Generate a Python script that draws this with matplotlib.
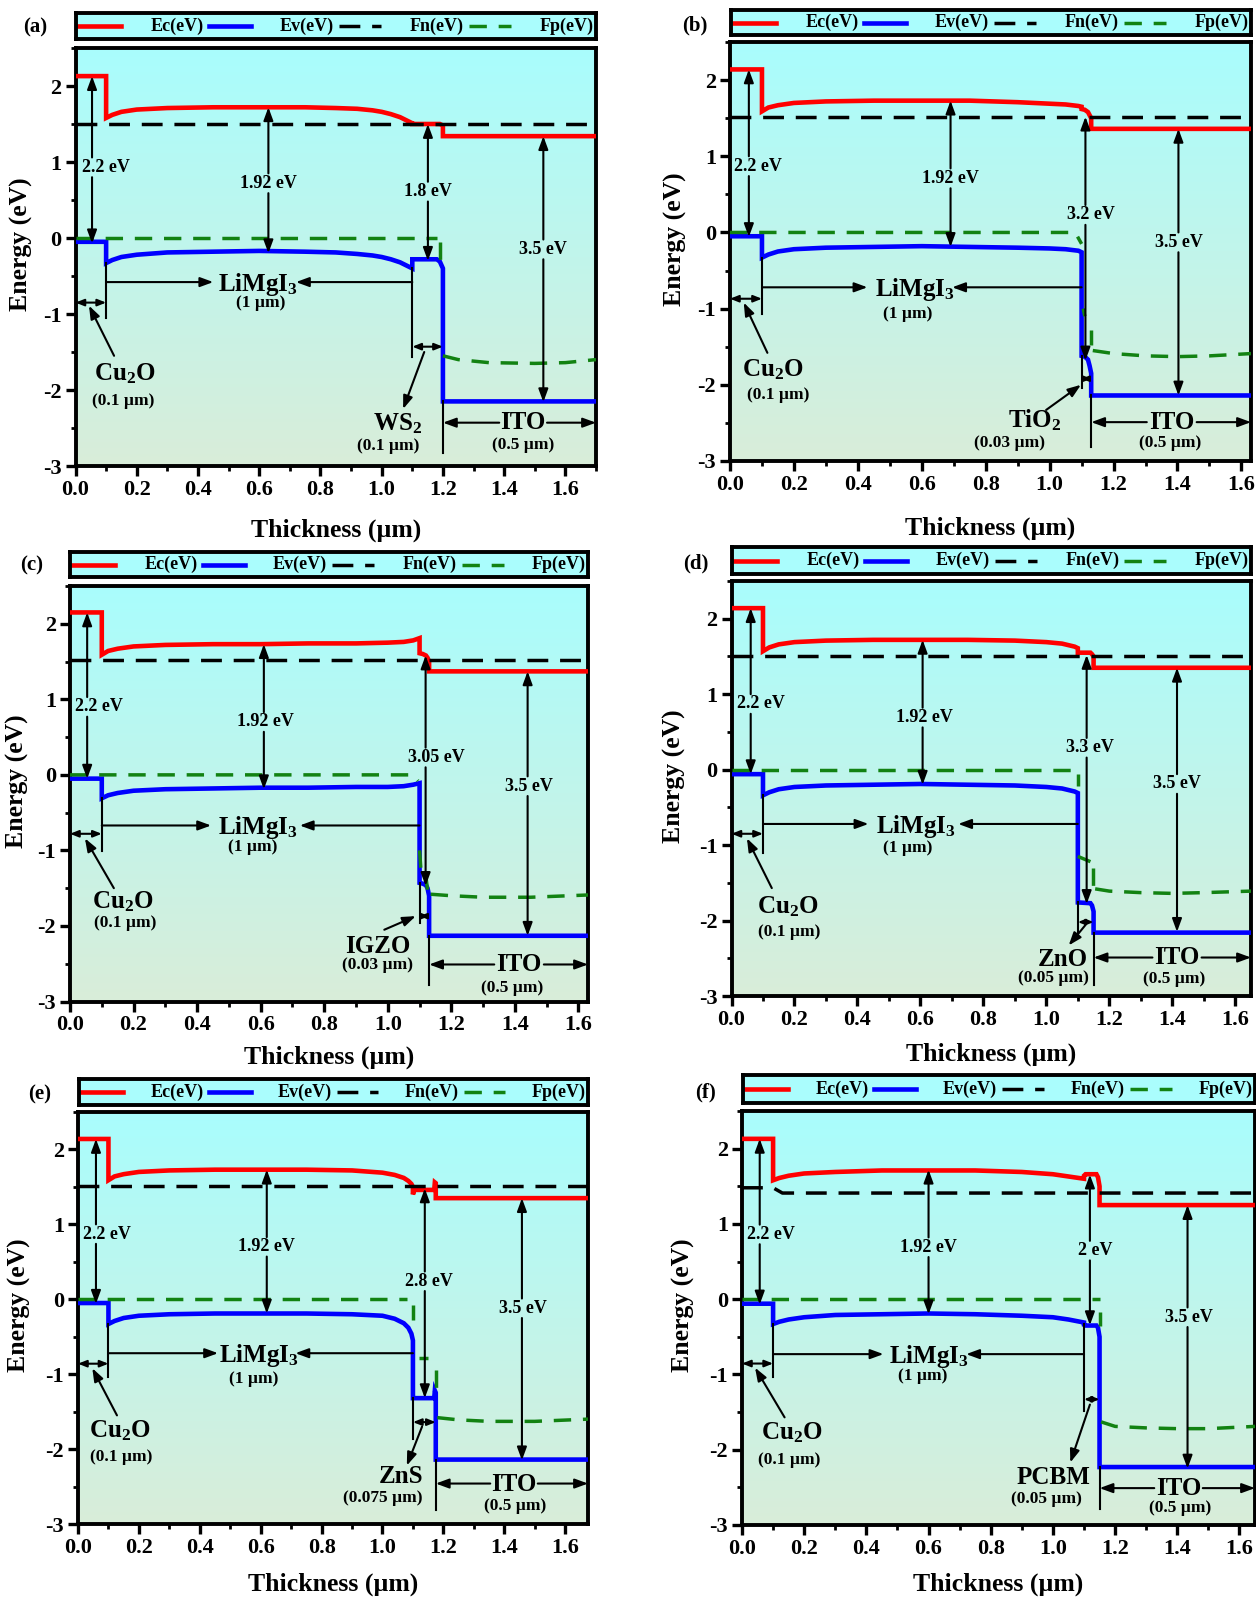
import numpy as np
import matplotlib
matplotlib.use("Agg")
import matplotlib.pyplot as plt
from matplotlib.colors import to_rgb
from matplotlib.ticker import MultipleLocator, FormatStrFormatter

plt.rcParams.update({
    'font.family': ['Liberation Serif', 'DejaVu Serif'],
    'font.weight': 'bold',
    'axes.unicode_minus': False,
    'mathtext.fontset': 'custom',
    'mathtext.rm': 'Liberation Serif:bold',
    'mathtext.it': 'Liberation Serif:bold',
    'mathtext.bf': 'Liberation Serif:bold',
})

# ---------------- layer stack ----------------
htl_name, htl_thick = 'Cu$_2$O', 0.1
abs_name, abs_thick = 'LiMgI$_3$', 1.0
tco_name, tco_thick = 'ITO', 0.5
etl_names = ['WS$_2$', 'TiO$_2$', 'IGZO', 'ZnO', 'ZnS', 'PCBM']
etl_thick = [0.1, 0.03, 0.03, 0.05, 0.075, 0.05]
panel_tags = ['(a)', '(b)', '(c)', '(d)', '(e)', '(f)']
legend_labels = ['Ec(eV)', 'Ev(eV)', 'Fn(eV)', 'Fp(eV)']

# band gaps quoted on the arrows: HTL, absorber, ETL, TCO
gaps_a = [2.2, 1.92, 1.8, 3.5]
gaps_b = [2.2, 1.92, 3.2, 3.5]
gaps_c = [2.2, 1.92, 3.05, 3.5]
gaps_d = [2.2, 1.92, 3.3, 3.5]
gaps_e = [2.2, 1.92, 2.8, 3.5]
gaps_f = [2.2, 1.92, 2.0, 3.5]

nan = np.nan

# ---------------- (a) Cu2O / LiMgI3 / WS2 / ITO ----------------
x_a = [0, 0.1, 0.1, 0.12, 0.15, 0.2, 0.3, 0.45, 0.6, 0.75, 0.85, 0.92, 0.97, 1.0,
       1.03, 1.06, 1.08, 1.1, 1.1, 1.18, 1.19, 1.2, 1.2, 1.7]
ec_a = [2.13, 2.13, 1.58, 1.62, 1.66, 1.69, 1.71, 1.72, 1.72, 1.72, 1.71, 1.70, 1.68, 1.66,
        1.63, 1.59, 1.55, 1.51, 1.50, 1.50, 1.50, 1.48, 1.34, 1.34]
ev_a = [-0.05, -0.05, -0.33, -0.29, -0.25, -0.22, -0.19, -0.18, -0.17, -0.18, -0.19, -0.21, -0.23, -0.25,
        -0.28, -0.32, -0.36, -0.40, -0.28, -0.28, -0.31, -0.40, -2.15, -2.15]
fn_x_a = [0, 1.7]
fn_a = [1.50, 1.50]
fp_x_a = [0, 1.18, nan, 1.19, 1.19, nan, 1.2, 1.25, 1.35, 1.5, 1.6, 1.7]
fp_a = [0, 0, nan, -0.05, -0.30, nan, -1.55, -1.60, -1.64, -1.65, -1.64, -1.60]

# ---------------- (b) Cu2O / LiMgI3 / TiO2 / ITO ----------------
x_b = [0, 0.1, 0.1, 0.12, 0.15, 0.2, 0.3, 0.45, 0.6, 0.75, 0.9, 1.0, 1.05, 1.09, 1.1, 1.1,
       1.11, 1.12, 1.125, 1.13, 1.13, 1.63]
ec_b = [2.14, 2.14, 1.59, 1.64, 1.67, 1.70, 1.72, 1.73, 1.73, 1.73, 1.71, 1.69, 1.68, 1.66, 1.65, 1.62,
        1.61, 1.58, 1.54, 1.50, 1.36, 1.36]
ev_b = [-0.05, -0.05, -0.33, -0.29, -0.25, -0.22, -0.20, -0.19, -0.18, -0.19, -0.20, -0.21, -0.22, -0.24, -0.26, -1.62,
        -1.63, -1.67, -1.75, -1.85, -2.14, -2.14]
fn_x_b = [0, 1.63]
fn_b = [1.51, 1.51]
fp_x_b = [0, 1.08, 1.1, nan, 1.105, 1.11, nan, 1.13, 1.13, nan, 1.135, 1.2, 1.3, 1.4, 1.5, 1.63]
fp_b = [0, 0, -0.15, nan, -1.00, -1.10, nan, -1.28, -1.48, nan, -1.55, -1.59, -1.62, -1.63, -1.62, -1.59]

# ---------------- (c) Cu2O / LiMgI3 / IGZO / ITO ----------------
x_c = [0, 0.1, 0.1, 0.12, 0.15, 0.2, 0.3, 0.45, 0.6, 0.75, 0.9, 1.0, 1.05, 1.08, 1.1, 1.1,
       1.11, 1.12, 1.125, 1.13, 1.13, 1.63]
ec_c = [2.15, 2.15, 1.59, 1.64, 1.67, 1.70, 1.72, 1.73, 1.73, 1.74, 1.74, 1.75, 1.76, 1.78, 1.81, 1.61,
        1.60, 1.58, 1.55, 1.50, 1.37, 1.37]
ev_c = [-0.05, -0.05, -0.31, -0.27, -0.24, -0.21, -0.19, -0.18, -0.17, -0.17, -0.16, -0.16, -0.15, -0.13, -0.11, -1.43,
        -1.44, -1.46, -1.50, -1.60, -2.13, -2.13]
fn_x_c = [0, 1.63]
fn_c = [1.52, 1.52]
fp_x_c = [0, 1.08, 1.095, nan, 1.1, 1.105, nan, 1.12, 1.125, nan, 1.135, 1.2, 1.3, 1.45, 1.63]
fp_c = [0, 0, -0.08, nan, -1.00, -1.30, nan, -1.35, -1.52, nan, -1.58, -1.60, -1.62, -1.62, -1.59]

# ---------------- (d) Cu2O / LiMgI3 / ZnO / ITO ----------------
x_d = [0, 0.1, 0.1, 0.12, 0.15, 0.2, 0.3, 0.45, 0.6, 0.75, 0.9, 1.0, 1.05, 1.09, 1.1, 1.1,
       1.14, 1.145, 1.15, 1.15, 1.65]
ec_d = [2.14, 2.14, 1.57, 1.62, 1.66, 1.69, 1.71, 1.72, 1.72, 1.72, 1.71, 1.69, 1.67, 1.63, 1.61, 1.55,
        1.55, 1.53, 1.50, 1.35, 1.35]
ev_d = [-0.06, -0.06, -0.34, -0.30, -0.26, -0.23, -0.21, -0.20, -0.19, -0.20, -0.21, -0.23, -0.25, -0.29, -0.31, -1.76,
        -1.77, -1.80, -1.88, -2.16, -2.16]
fn_x_d = [0, 1.65]
fn_d = [1.51, 1.51]
fp_x_d = [0, 1.1, 1.1, nan, 1.1, 1.14, nan, 1.148, 1.148, nan, 1.155, 1.2, 1.3, 1.4, 1.5, 1.65]
fp_d = [0, 0, -0.22, nan, -1.15, -1.22, nan, -1.30, -1.55, nan, -1.58, -1.61, -1.63, -1.64, -1.63, -1.61]

# ---------------- (e) Cu2O / LiMgI3 / ZnS / ITO ----------------
x_e = [0, 0.1, 0.1, 0.12, 0.15, 0.2, 0.3, 0.45, 0.6, 0.75, 0.9, 1.0, 1.04, 1.07, 1.085, 1.095,
       1.1, 1.1, 1.105, 1.17, 1.172, 1.175, 1.175, 1.675]
ec_e = [2.14, 2.14, 1.59, 1.64, 1.67, 1.70, 1.72, 1.73, 1.73, 1.73, 1.72, 1.69, 1.66, 1.62, 1.58, 1.54,
        1.50, 1.40, 1.46, 1.46, 1.56, 1.55, 1.35, 1.35]
ev_e = [-0.05, -0.05, -0.33, -0.29, -0.25, -0.22, -0.20, -0.19, -0.19, -0.19, -0.20, -0.22, -0.26, -0.32, -0.38, -0.46,
        -0.55, -1.32, -1.32, -1.32, -1.22, -1.25, -2.14, -2.14]
fn_x_e = [0, 1.675]
fn_e = [1.51, 1.51]
fp_x_e = [0, 1.08, nan, 1.1, 1.1, nan, 1.12, 1.15, nan, 1.175, 1.175, nan, 1.18, 1.25, 1.35, 1.5, 1.675]
fp_e = [0, 0, nan, -0.08, -0.28, nan, -0.79, -0.79, nan, -0.95, -1.20, nan, -1.58, -1.61, -1.63, -1.63, -1.60]

# ---------------- (f) Cu2O / LiMgI3 / PCBM / ITO ----------------
x_f = [0, 0.1, 0.1, 0.12, 0.15, 0.2, 0.3, 0.45, 0.6, 0.75, 0.9, 1.0, 1.05, 1.1, 1.1,
       1.105, 1.14, 1.145, 1.15, 1.15, 1.65]
ec_f = [2.13, 2.13, 1.58, 1.61, 1.64, 1.67, 1.69, 1.71, 1.71, 1.71, 1.69, 1.66, 1.63, 1.60, 1.64,
        1.66, 1.66, 1.62, 1.50, 1.25, 1.25]
ev_f = [-0.06, -0.06, -0.33, -0.30, -0.27, -0.24, -0.21, -0.20, -0.19, -0.20, -0.22, -0.24, -0.27, -0.31, -0.34,
        -0.35, -0.35, -0.38, -0.50, -2.23, -2.23]
fn_x_f = [0, 0.1, 0.13, 1.65]
fn_f = [1.48, 1.48, 1.41, 1.41]
fp_x_f = [0, 1.15, nan, 1.15, 1.15, nan, 1.155, 1.2, 1.3, 1.4, 1.5, 1.65]
fp_f = [0, 0, nan, -0.17, -0.35, nan, -1.63, -1.69, -1.71, -1.72, -1.72, -1.69]

# ---------------- figure layout (pixel boxes: x0, y0_top, x1, y1_bottom) ----------------
W, H = 1256, 1597
axes_px = [(75.5, 48, 596, 466), (730, 42, 1251, 461),
           (70, 586, 588, 1001.5), (731.5, 581, 1251, 996),
           (78, 1112, 588, 1524), (742, 1111, 1255, 1525)]
legend_px = [(76, 13, 596, 39), (731, 10, 1251, 35),
             (70, 552, 588, 577), (732, 547, 1251, 574),
             (79, 1079, 588, 1105), (743, 1075, 1255, 1103)]
tag_px = [(35, 27), (695, 25), (32, 565), (696, 563), (40, 1094), (705, 1092)]
ylabel_x_px = [21, 675, 17, 674, 19, 683]
xlabel_y_px = [530, 528, 1057, 1054, 1584, 1584]

# annotation placement (data coordinates) for each panel
layouts = [
    dict(gap=[(0.054, 2.13, 0.098, 0.93), (0.63, 1.72, 0.63, 0.72), (1.151, 1.50, 1.151, 0.61), (1.528, 1.34, 1.528, -0.15)],
         cu=dict(y=-0.85, v=(-0.33, -1.05), tail=(0.126, -1.55), head=(0.044, -0.89), text=(0.16, -1.78), sub=(0.155, -2.15)),
         ab=dict(y=-0.58, r=0.45, l=0.72, text=(0.595, -0.61), sub=(0.605, -0.86)),
         et=dict(y=-1.43, v2=(-0.40, -1.56), v3=(-2.15, -2.83), tail=(1.139, -1.50), head=(1.07, -2.25), text=(1.053, -2.44), sub=(1.02, -2.74)),
         it=dict(y=-2.43, text=(1.462, -2.43), sub=(1.462, -2.73))),
    dict(gap=[(0.059, 2.14, 0.086, 0.87), (0.69, 1.73, 0.69, 0.71), (1.112, 1.52, 1.128, 0.23), (1.403, 1.36, 1.403, -0.13)],
         cu=dict(y=-0.87, v=(-0.33, -1.07), tail=(0.117, -1.58), head=(0.043, -0.92), text=(0.135, -1.80), sub=(0.15, -2.13)),
         ab=dict(y=-0.72, r=0.43, l=0.695, text=(0.578, -0.75), sub=(0.557, -1.07)),
         et=dict(y=-1.92, v2=(-1.62, -2.04), v3=(-2.14, -2.82), tail=(0.989, -2.33), head=(1.098, -2.0), text=(0.952, -2.47), sub=(0.873, -2.76)),
         it=dict(y=-2.49, text=(1.382, -2.49), sub=(1.376, -2.76))),
    dict(gap=[(0.054, 2.15, 0.09, 0.90), (0.61, 1.73, 0.615, 0.70), (1.119, 1.58, 1.152, 0.23), (1.44, 1.37, 1.445, -0.15)],
         cu=dict(y=-0.78, v=(-0.31, -1.01), tail=(0.138, -1.50), head=(0.047, -0.84), text=(0.166, -1.68), sub=(0.175, -1.96)),
         ab=dict(y=-0.67, r=0.444, l=0.723, text=(0.59, -0.70), sub=(0.574, -0.96)),
         et=dict(y=-1.87, v2=(-1.43, -1.96), v3=(-2.13, -2.78), tail=(0.989, -2.05), head=(1.088, -1.87), text=(0.968, -2.27), sub=(0.968, -2.52)),
         it=dict(y=-2.51, text=(1.413, -2.51), sub=(1.39, -2.82))),
    dict(gap=[(0.061, 2.14, 0.094, 0.87), (0.607, 1.72, 0.612, 0.69), (1.128, 1.52, 1.137, 0.29), (1.415, 1.35, 1.415, -0.19)],
         cu=dict(y=-0.85, v=(-0.34, -1.10), tail=(0.128, -1.57), head=(0.049, -0.91), text=(0.178, -1.81), sub=(0.184, -2.15)),
         ab=dict(y=-0.72, r=0.435, l=0.72, text=(0.585, -0.76), sub=(0.56, -1.04)),
         et=dict(y=-2.02, v2=(-1.76, -2.19), v3=(-2.16, -2.85), tail=(1.124, -2.06), head=(1.071, -2.33), text=(1.051, -2.51), sub=(1.021, -2.76)),
         it=dict(y=-2.49, text=(1.415, -2.49), sub=(1.406, -2.77))),
    dict(gap=[(0.059, 2.14, 0.094, 0.87), (0.62, 1.73, 0.62, 0.70), (1.139, 1.48, 1.152, 0.24), (1.458, 1.35, 1.46, -0.12)],
         cu=dict(y=-0.86, v=(-0.33, -1.04), tail=(0.128, -1.55), head=(0.047, -0.92), text=(0.137, -1.76), sub=(0.141, -2.11)),
         ab=dict(y=-0.72, r=0.46, l=0.714, text=(0.595, -0.75), sub=(0.576, -1.07)),
         et=dict(y=-1.64, v2=(-1.32, -1.87), v3=(-2.14, -2.81), tail=(1.13, -1.70), head=(1.08, -2.22), text=(1.06, -2.36), sub=(1.0, -2.65)),
         it=dict(y=-2.46, text=(1.432, -2.47), sub=(1.436, -2.76))),
    dict(gap=[(0.057, 2.13, 0.092, 0.86), (0.60, 1.72, 0.60, 0.69), (1.119, 1.655, 1.135, 0.645), (1.433, 1.25, 1.437, -0.24)],
         cu=dict(y=-0.855, v=(-0.33, -1.04), tail=(0.137, -1.57), head=(0.042, -0.91), text=(0.16, -1.78), sub=(0.152, -2.13)),
         ab=dict(y=-0.73, r=0.455, l=0.721, text=(0.60, -0.76), sub=(0.58, -1.02)),
         et=dict(y=-1.33, v2=(-0.33, -1.49), v3=(-2.23, -2.79), tail=(1.119, -1.40), head=(1.056, -2.17), text=(1.003, -2.37), sub=(0.98, -2.65)),
         it=dict(y=-2.51, text=(1.404, -2.51), sub=(1.41, -2.78))),
]

curves = [(x_a, ec_a, ev_a, fn_x_a, fn_a, fp_x_a, fp_a),
          (x_b, ec_b, ev_b, fn_x_b, fn_b, fp_x_b, fp_b),
          (x_c, ec_c, ev_c, fn_x_c, fn_c, fp_x_c, fp_c),
          (x_d, ec_d, ev_d, fn_x_d, fn_d, fp_x_d, fp_d),
          (x_e, ec_e, ev_e, fn_x_e, fn_e, fp_x_e, fp_e),
          (x_f, ec_f, ev_f, fn_x_f, fn_f, fp_x_f, fp_f)]
gap_sets = [gaps_a, gaps_b, gaps_c, gaps_d, gaps_e, gaps_f]

# ---------------- styles ----------------
EC_COLOR, EV_COLOR, FN_COLOR, FP_COLOR = '#ff0000', '#0000ff', '#000000', '#128212'
BAND_LW, LEVEL_LW = 3.3, 2.5
FN_DASH = (0, (6.0, 3.4))
FP_DASH = (0, (5.0, 3.4))
BG_TOP, BG_BOTTOM = '#a9fdfd', '#d9edd9'
LEGEND_BG = '#aafdfd'
SPINE_W = 2.8
GAP_FS, BIG_FS, SMALL_FS = 13, 18, 12.5
TICK_FS = 16
ARROW = '-|>,head_length=0.6,head_width=0.22'
DBL = '<|-|>,head_length=0.5,head_width=0.2'


def to_rect(box):
    x0, y0, x1, y1 = box
    return [x0 / W, 1 - y1 / H, (x1 - x0) / W, (y1 - y0) / H]


def arrow(ax, start, end, style=ARROW, ms=13, lw=1.5):
    ax.annotate('', xy=end, xytext=start,
                arrowprops=dict(arrowstyle=style, color='k', lw=lw, shrinkA=0, shrinkB=0,
                                mutation_scale=ms),
                annotation_clip=False, zorder=6)


def pieces(xs, ys):
    out, cx, cy = [], [], []
    for x, y in zip(xs, ys):
        if np.isnan(x):
            out.append((cx, cy))
            cx, cy = [], []
        else:
            cx.append(x)
            cy.append(y)
    out.append((cx, cy))
    return out


fig = plt.figure(figsize=(W / 100, H / 100), dpi=100)

for i in range(6):
    x, ec, ev, fnx, fn, fpx, fp = curves[i]
    gaps = gap_sets[i]
    lay = layouts[i]
    etl_t = etl_thick[i]
    b1 = htl_thick
    b2 = b1 + abs_thick
    b3 = b2 + etl_t
    total = b3 + tco_thick

    ax = fig.add_axes(to_rect(axes_px[i]))

    # background gradient
    t = np.linspace(0, 1, 256)[:, None, None]
    img = (1 - t) * np.array(to_rgb(BG_TOP)) + t * np.array(to_rgb(BG_BOTTOM))
    img = np.repeat(img, 2, axis=1)
    ax.imshow(img, extent=(0, total, -3, 2.5), aspect='auto', origin='upper', zorder=0,
              interpolation='bilinear')

    # band edges and quasi-Fermi levels
    ax.plot(x, ec, color=EC_COLOR, lw=BAND_LW, zorder=3, solid_joinstyle='miter')
    ax.plot(x, ev, color=EV_COLOR, lw=BAND_LW, zorder=3, solid_joinstyle='miter')
    ax.plot(fnx, fn, color=FN_COLOR, lw=LEVEL_LW, ls=FN_DASH, zorder=4)
    for px, py in pieces(fpx, fp):
        ax.plot(px, py, color=FP_COLOR, lw=LEVEL_LW, ls=FP_DASH, zorder=4)

    # band-gap arrows with their values
    for (gx, gtop, lx, ly), g in zip(lay['gap'], gaps):
        half = 0.13
        arrow(ax, (gx, ly + half), (gx, gtop))
        arrow(ax, (gx, ly - half), (gx, gtop - g))
        ax.text(lx, ly, f'{g:g} eV', ha='center', va='center', fontsize=GAP_FS, zorder=7)

    # HTL thickness marker
    cu = lay['cu']
    ax.plot([b1, b1], cu['v'], color='k', lw=1.5, zorder=5)
    arrow(ax, (0, cu['y']), (b1, cu['y']), style=DBL, ms=10)
    arrow(ax, cu['tail'], cu['head'])
    ax.text(*cu['text'], htl_name, ha='center', va='center', fontsize=BIG_FS)
    ax.text(*cu['sub'], f'({htl_thick:g} µm)', ha='center', va='center', fontsize=SMALL_FS)

    # absorber thickness marker
    ab = lay['ab']
    arrow(ax, (b1, ab['y']), (ab['r'], ab['y']))
    arrow(ax, (b2, ab['y']), (ab['l'], ab['y']))
    ax.text(*ab['text'], abs_name, ha='center', va='center', fontsize=BIG_FS)
    ax.text(*ab['sub'], f'({abs_thick:g} µm)', ha='center', va='center', fontsize=SMALL_FS)

    # ETL thickness marker
    et = lay['et']
    ax.plot([b2, b2], et['v2'], color='k', lw=1.5, zorder=5)
    ax.plot([b3, b3], et['v3'], color='k', lw=1.5, zorder=5)
    arrow(ax, (b2, et['y']), (b3, et['y']), style=DBL, ms=8 if etl_t < 0.06 else 10)
    arrow(ax, et['tail'], et['head'])
    ax.text(*et['text'], etl_names[i], ha='center', va='center', fontsize=BIG_FS)
    ax.text(*et['sub'], f'({etl_t:g} µm)', ha='center', va='center', fontsize=SMALL_FS)

    # TCO thickness marker
    it = lay['it']
    hw = 0.078
    arrow(ax, (it['text'][0] - hw, it['y']), (b3, it['y']))
    arrow(ax, (it['text'][0] + hw, it['y']), (total, it['y']))
    ax.text(*it['text'], tco_name, ha='center', va='center', fontsize=BIG_FS)
    ax.text(*it['sub'], f'({tco_thick:g} µm)', ha='center', va='center', fontsize=SMALL_FS)

    # axes styling
    ax.set_xlim(0, total)
    ax.set_ylim(-3, 2.5)
    ax.set_xticks(np.arange(0, 1.61, 0.2))
    ax.xaxis.set_minor_locator(MultipleLocator(0.1))
    ax.set_yticks([-3, -2, -1, 0, 1, 2])
    ax.yaxis.set_minor_locator(MultipleLocator(0.5))
    ax.xaxis.set_major_formatter(FormatStrFormatter('%.1f'))
    ax.yaxis.set_major_formatter(FormatStrFormatter('%d'))
    ax.tick_params(which='major', direction='out', length=7, width=2.4, labelsize=TICK_FS, pad=3)
    ax.tick_params(which='minor', direction='out', length=3.5, width=2.0)
    for s in ax.spines.values():
        s.set_linewidth(SPINE_W)
    for lab in ax.get_xticklabels() + ax.get_yticklabels():
        lab.set_fontweight('bold')

    x0, y0, x1, y1 = axes_px[i]
    fig.text(ylabel_x_px[i] / W, 1 - (y1 - 0.53 * (y1 - y0)) / H, 'Energy (eV)',
             rotation=90, ha='center', va='center', fontsize=18.5)
    fig.text((x0 + x1) / 2 / W, 1 - xlabel_y_px[i] / H, 'Thickness (µm)',
             ha='center', va='center', fontsize=18.5)
    fig.text(tag_px[i][0] / W, 1 - tag_px[i][1] / H, panel_tags[i],
             ha='center', va='center', fontsize=15)

    # legend strip above the panel
    lax = fig.add_axes(to_rect(legend_px[i]))
    lax.set_facecolor(LEGEND_BG)
    lax.set_xlim(0, 1)
    lax.set_ylim(0, 1)
    lax.set_xticks([])
    lax.set_yticks([])
    for s in lax.spines.values():
        s.set_linewidth(SPINE_W)
    styles = [(EC_COLOR, '-', BAND_LW), (EV_COLOR, '-', BAND_LW),
              (FN_COLOR, FN_DASH, LEVEL_LW), (FP_COLOR, FP_DASH, LEVEL_LW)]
    for k, (lbl, (c, ls, lw)) in enumerate(zip(legend_labels, styles)):
        lax.plot([0.25 * k + 0.006, 0.25 * k + 0.087], [0.5, 0.5], color=c, ls=ls, lw=lw)
        lax.text(0.25 * (k + 1) - 0.004, 0.5, lbl, ha='right', va='center', fontsize=13)

fig.savefig('out.png', dpi=100)
